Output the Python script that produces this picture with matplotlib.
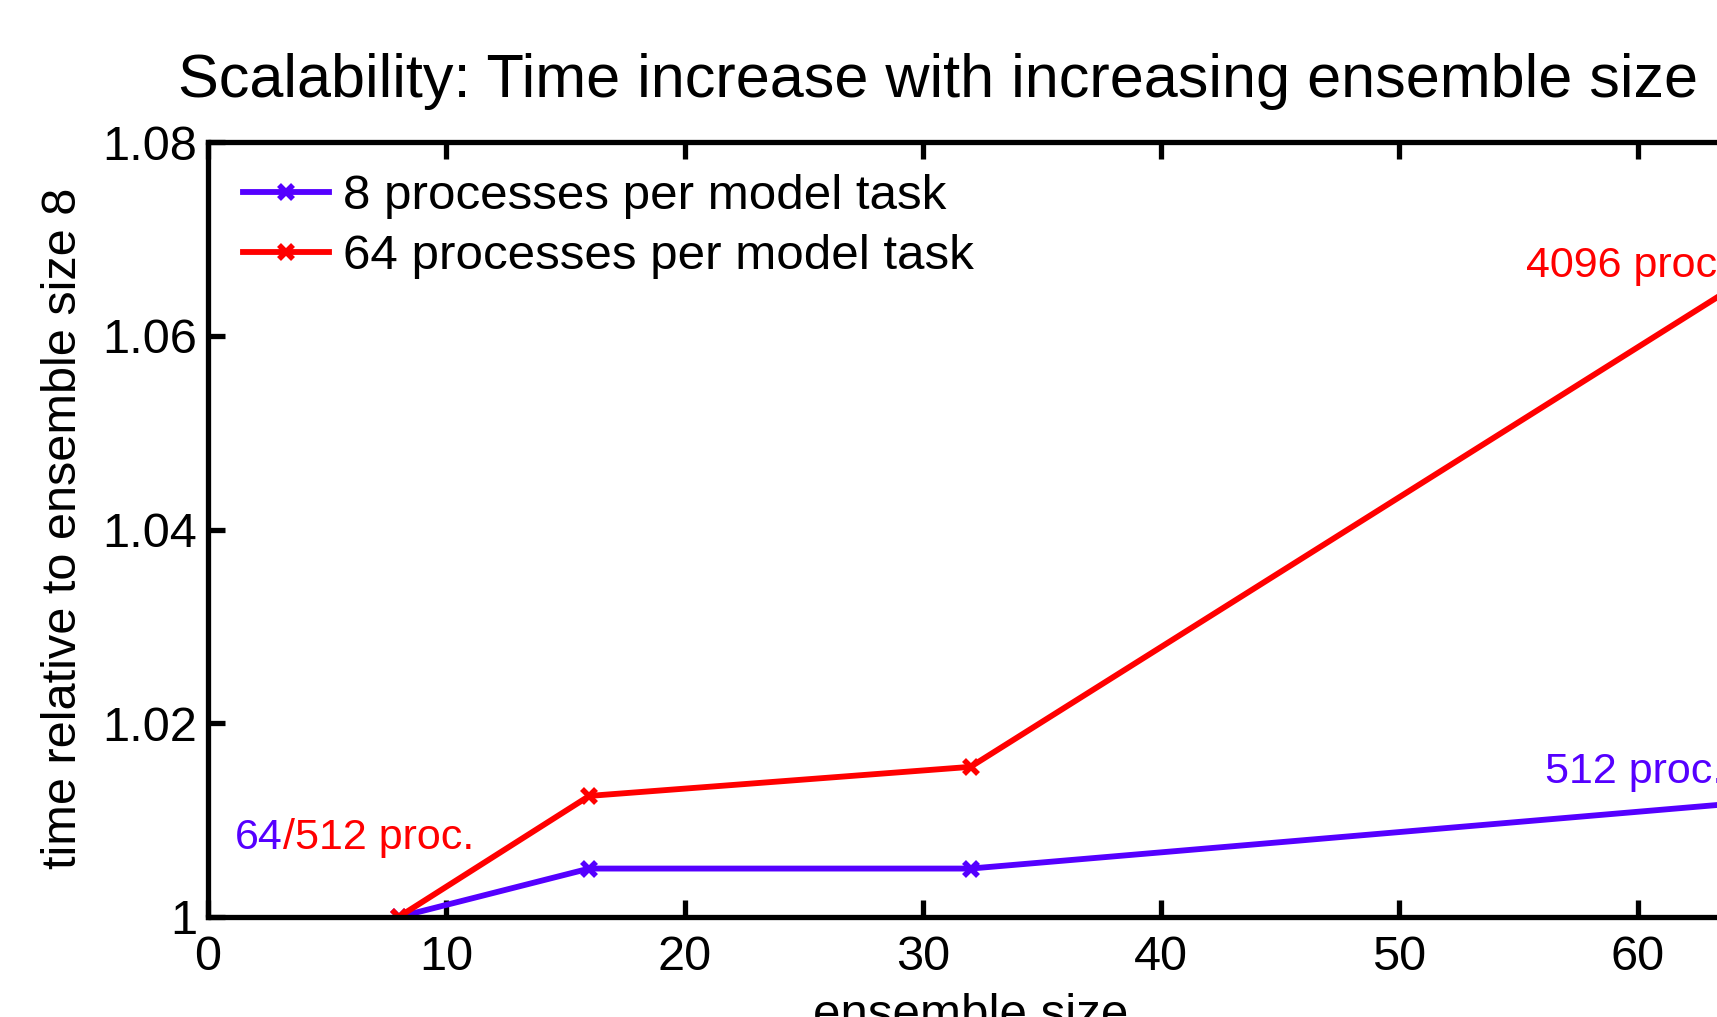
import numpy as np
import matplotlib.pyplot as plt

plt.rcParams['font.family'] = ['Liberation Sans', 'DejaVu Sans']

ensemble_size = np.array([8, 16, 32, 64])
time_8procs = np.array([1.0, 1.005, 1.005, 1.0117])
time_64procs = np.array([1.0, 1.0125, 1.0155, 1.065])

blue = '#5500ff'
red = '#ff0000'

fig = plt.figure(figsize=(17.17, 10.17), dpi=100)
# axes runs past the right edge of the figure, like the reference crop
ax = fig.add_axes([208 / 1717, 100 / 1017, 1668 / 1717, 775 / 1017])

ax.plot(ensemble_size, time_8procs, color=blue, lw=4.2, marker='x',
        ms=10, mew=4, label='8 processes per model task')
ax.plot(ensemble_size, time_64procs, color=red, lw=4.2, marker='x',
        ms=10, mew=4, label='64 processes per model task')

ax.set_xlim(0, 70)
ax.set_ylim(1, 1.08)
ax.set_xticks(np.arange(0, 71, 10))
ax.set_yticks([1, 1.02, 1.04, 1.06, 1.08])
ax.set_yticklabels(['1', '1.02', '1.04', '1.06', '1.08'])

for s in ax.spines.values():
    s.set_linewidth(3.8)
ax.tick_params(direction='in', length=12, width=3.8, labelsize=35,
               top=True, right=True)
ax.tick_params(axis='x', pad=13)
ax.tick_params(axis='y', pad=8)

ax.legend(loc='upper left', bbox_to_anchor=(243 / 1717, 1 - 174 / 1017),
          bbox_transform=fig.transFigure, frameon=False, fontsize=35.5,
          handlelength=1.75, handletextpad=0.28, labelspacing=0.3,
          borderpad=0, borderaxespad=0)

ax.text(55.3, 1.0661, '4096 proc.', color=red, fontsize=31, va='baseline')
ax.text(56.1, 1.0138, '512 proc.', color=blue, fontsize=31, va='baseline')
t1 = ax.text(1.13, 1.0070, '64', color=blue, fontsize=31, va='baseline')
ax.annotate('/512 proc.', xy=(1, 0), xycoords=t1, color=red, fontsize=31,
            va='bottom', ha='left')

fig.text(938 / 1717, 1 - 97 / 1017,
         'Scalability: Time increase with increasing ensemble size',
         fontsize=44, ha='center', va='baseline')
fig.text(971 / 1717, -11 / 1017, 'ensemble size', fontsize=35.5,
         ha='center', va='baseline')
fig.text(64 / 1717, 1 - 528 / 1017, 'time relative to ensemble size 8',
         fontsize=35, rotation=90, ha='center', va='center')

fig.savefig('out.png', dpi=100)
